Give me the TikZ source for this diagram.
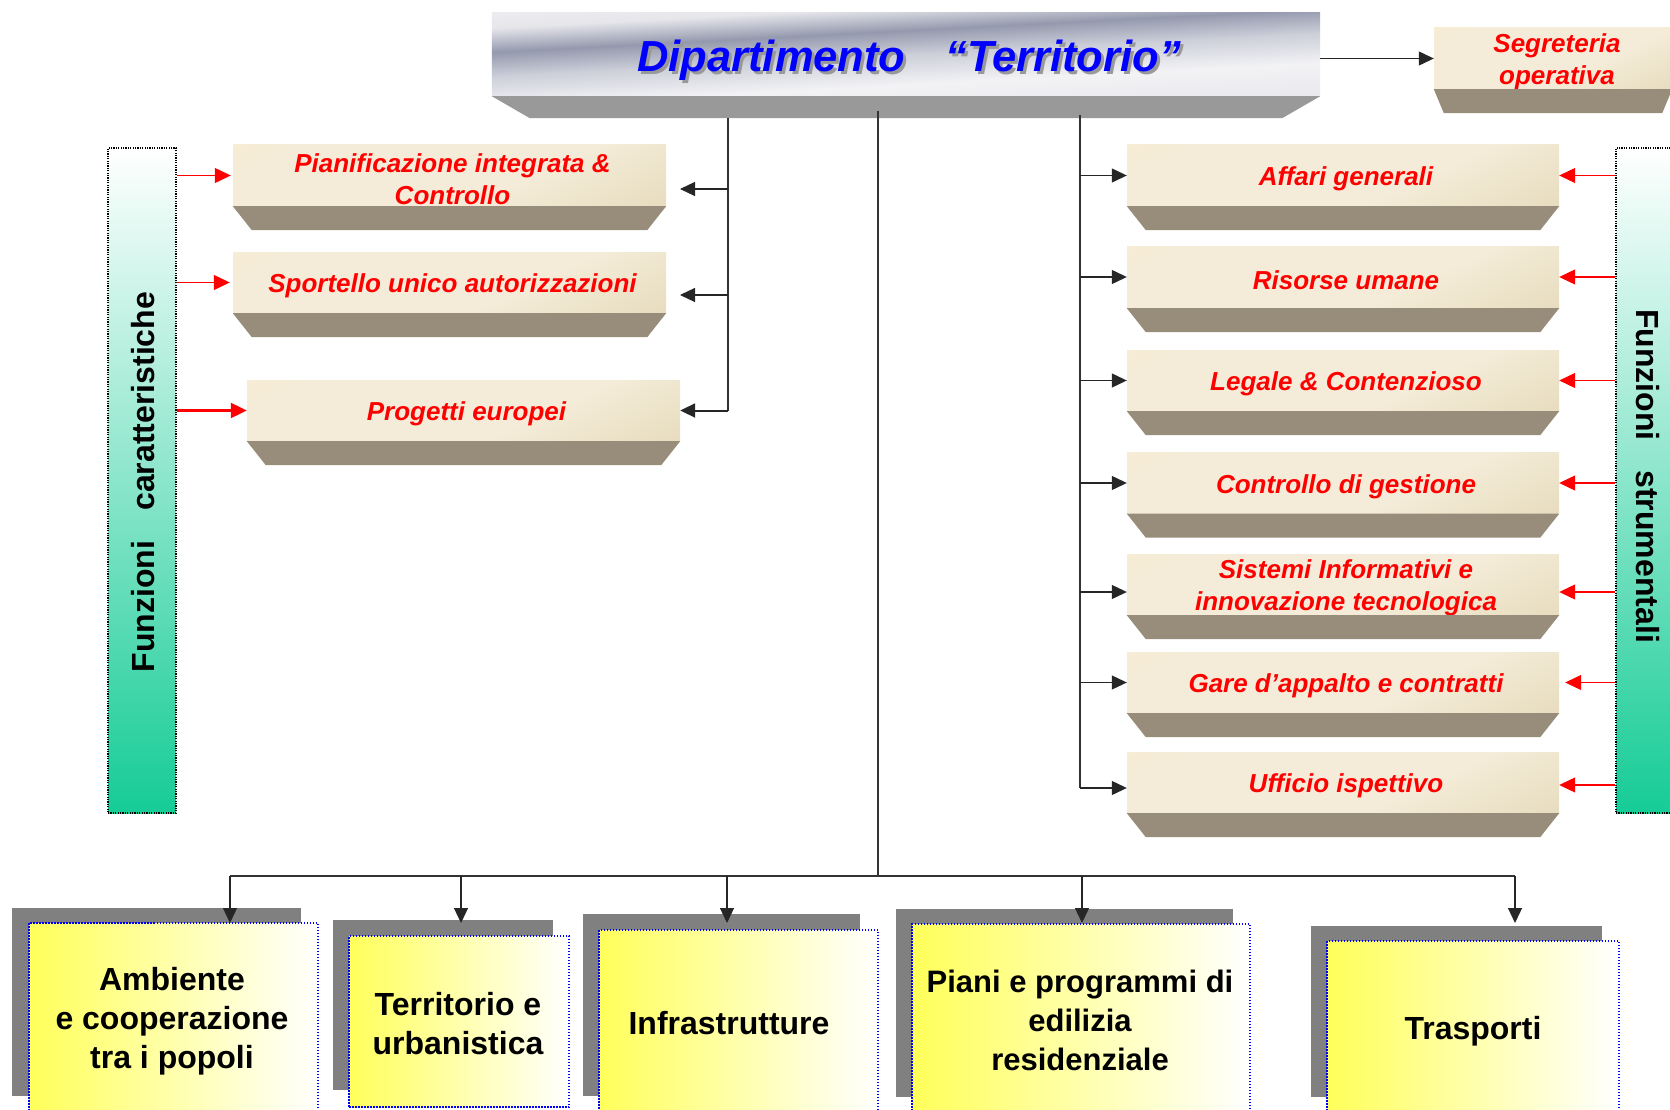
\documentclass[tikz,border=0pt]{standalone}
\usepackage{fontspec}
\setmainfont{Liberation Sans}
\usetikzlibrary{arrows.meta,calc}
\definecolor{bevelc}{RGB}{151,141,122}
\definecolor{titlebev}{RGB}{153,153,153}
\definecolor{boxA}{RGB}{253,235,204}
\definecolor{boxB}{RGB}{244,236,216}
\definecolor{boxM}{RGB}{232,221,192}
\definecolor{boxC}{RGB}{214,198,160}
\definecolor{mint}{RGB}{22,204,150}
\definecolor{mintmid}{RGB}{200,238,222}
\definecolor{shadowg}{RGB}{128,128,128}
\definecolor{yel}{RGB}{255,255,90}
\definecolor{yelmid}{RGB}{255,255,185}
\definecolor{titleblue}{RGB}{0,0,255}
\pgfdeclareverticalshading{metal}{100bp}{rgb(0bp)=(0.93,0.93,0.95); rgb(10bp)=(0.93,0.93,0.95); rgb(18bp)=(0.60,0.62,0.70); rgb(28bp)=(0.91,0.91,0.93); rgb(40bp)=(0.95,0.95,0.96); rgb(50bp)=(0.80,0.81,0.85); rgb(58bp)=(0.58,0.60,0.68); rgb(66bp)=(0.90,0.90,0.92); rgb(76bp)=(0.95,0.95,0.96); rgb(84bp)=(0.55,0.58,0.66); rgb(92bp)=(0.82,0.83,0.86); rgb(100bp)=(0.85,0.86,0.88)}
\pgfdeclareverticalshading{beige}{100bp}{color(0bp)=(boxC); color(18bp)=(boxM); color(40bp)=(boxB); color(75bp)=(boxB); color(100bp)=(boxA)}
\newcommand\bevel[4]{\fill[#4] (#1.south west) -- (#1.south east) -- ([xshift=-#2pt,yshift=-#3pt]#1.south east) -- ([xshift=#2pt,yshift=-#3pt]#1.south west) -- cycle;}
\newcommand\boxnode[6]{%
  \node[face, minimum width=#4pt, minimum height=#5pt] (#1) at (#2,#3) {};
  \node[ftext] (#1t) at ([xshift=3pt,yshift=-3.5pt]#1.center) {#6};
  \bevel{#1}{19}{24}{bevelc}}
\tikzset{
  face/.style={rectangle, inner sep=0pt, shading=beige, shading angle=25},
  ftext/.style={inner sep=0pt, text=red, align=center, font=\fontsize{26}{32}\selectfont\bfseries\itshape},
  titletext/.style={inner sep=0pt, font=\fontsize{43.5}{50}\selectfont\bfseries\itshape},
  sidebar/.style={rectangle, inner sep=0pt, draw=black, line width=1.2pt, dash pattern=on 1.2pt off 1.2pt, top color=white, middle color=mintmid, bottom color=mint},
  sidetext/.style={inner sep=0pt, font=\fontsize{32}{38}\selectfont\bfseries, text=black},
  bface/.style={rectangle, inner sep=0pt, draw=blue, line width=1.7pt, dash pattern=on 1.5pt off 1.5pt, left color=yel, middle color=yelmid, right color=white},
  btext/.style={align=center, inner sep=0pt, font=\fontsize{32}{39}\selectfont\bfseries, text=black},
  conn/.style={draw=black!80, line width=1.2pt},
  blk/.style={draw=black!85, line width=1.2pt, -{Triangle[length=15pt,width=14pt]}},
  redarr/.style={draw=red, line width=1.2pt, -{Triangle[length=16pt,width=15pt]}}
}
\begin{document}
\begin{tikzpicture}[x=1pt,y=-1pt]
\useasboundingbox (0,0) rectangle (1670,1110);
\clip (0,0) rectangle (1670,1110);

% side bars
\node[sidebar, minimum width=68pt, minimum height=665pt] (lbar) at (142,480.5) {};
\node[sidetext, rotate=90] (ltxt) at (143,482) {Funzioni\hspace{30pt}caratteristiche};
\node[sidebar, minimum width=62pt, minimum height=665pt] (rbar) at (1647,480.5) {};
\node[sidetext, rotate=-90] (rtxt) at (1648,476) {Funzioni\hspace{30pt}strumentali};

% title
\node[rectangle, inner sep=0pt, minimum width=828pt, minimum height=83pt] (dept) at (906,54.5) {};
\begin{scope}
  \clip (dept.south west) rectangle (dept.north east);
  \shade[shading=metal, shading angle=0, transform canvas={rotate around={3:(dept.center)}}]
    ([xshift=-440pt,yshift=-75pt]dept.center) rectangle ([xshift=440pt,yshift=75pt]dept.center);
\end{scope}
\bevel{dept}{38}{22}{titlebev}
\node[titletext, text=black!40] (deptsh) at (912,63) {Dipartimento\hspace{40pt}“Territorio”};
\node[titletext, text=titleblue] (depttxt) at (909,60) {Dipartimento\hspace{40pt}“Territorio”};

% segreteria
\node[face, minimum width=238pt, minimum height=61pt] (segr) at (1553,58.5) {};
\node[ftext] (segrt) at (1557,62) {Segreteria\\operativa};
\bevel{segr}{10}{24}{bevelc}

% left boxes
\boxnode{pian}{449.5}{175.5}{433}{61}{Pianificazione integrata \&\\Controllo}
\boxnode{sport}{449.5}{282.5}{433}{61}{Sportello unico autorizzazioni}
\boxnode{prog}{463.5}{410.5}{433}{61}{Progetti europei}

% right boxes
\boxnode{aff}{1343}{175.5}{432}{61}{Affari generali}
\boxnode{ris}{1343}{277}{432}{62}{Risorse umane}
\boxnode{leg}{1343}{380.5}{432}{61}{Legale \& Contenzioso}
\boxnode{ctrl}{1343}{483}{432}{61}{Controllo di gestione}
\boxnode{sist}{1343}{584.5}{432}{61}{Sistemi Informativi e\\innovazione tecnologica}
\boxnode{gare}{1343}{682.5}{432}{61}{Gare d’appalto e contratti}
\boxnode{uff}{1343}{782.5}{432}{61}{Ufficio ispettivo}

% bottom boxes
\fill[shadowg] (12,908) rectangle (301,1096);
\node[bface, minimum width=289pt, minimum height=202pt] (ambf) at (173.5,1024) {};
\node[btext] (ambt) at (172,1021) {Ambiente\\e cooperazione\\tra i popoli};
\fill[shadowg] (333,920) rectangle (553,1090);
\node[bface, minimum width=220pt, minimum height=171pt] (terrf) at (459,1021.5) {};
\node[btext] (terrt) at (458,1024) {Territorio e\\urbanistica};
\fill[shadowg] (583,914) rectangle (860,1096);
\node[bface, minimum width=279pt, minimum height=195pt] (infrf) at (738.5,1027.5) {};
\node[btext] (infrt) at (729,1023) {Infrastrutture};
\fill[shadowg] (896,909) rectangle (1233,1097);
\node[bface, minimum width=338pt, minimum height=201pt] (pianif) at (1081,1024.5) {};
\node[btext, font=\fontsize{31}{39}\selectfont\bfseries] (pianit) at (1080,1020) {Piani e programmi di\\edilizia\\residenziale};
\fill[shadowg] (1311,926) rectangle (1602,1097);
\node[bface, minimum width=292pt, minimum height=184pt] (traspf) at (1473,1033) {};
\node[btext] (traspt) at (1473,1031) {Trasporti};

% connector coordinates
\coordinate (ctop) at (878,111);
\coordinate (ltop) at (728,118);
\coordinate (rtop) at (1080,115);
\coordinate (hbar) at (878,876);
\coordinate (hL) at (230,876);
\coordinate (hR) at (1515,876);
\coordinate (pianIn) at (680,189);
\coordinate (sportIn) at (680,295);
\coordinate (sistIn) at ([yshift=-7.5pt]sist.west);
\coordinate (uffIn) at ([yshift=-5.5pt]uff.west);
\coordinate (sistR) at ([yshift=-7.5pt]sist.east);
\coordinate (gareR) at ([xshift=6pt]gare.east);
\coordinate (uffR) at ([yshift=-2.5pt]uff.east);
\coordinate (pianL) at ([xshift=-2pt]pian.west);
\coordinate (sportL) at ([xshift=-3pt]sport.west);
\coordinate (ambIn) at (230,923);
\coordinate (terrIn) at (461,923);
\coordinate (infrIn) at (727,923);
\coordinate (pianiIn) at (1082,923);
\coordinate (traspIn) at (1515,923);

% trunks
\draw[conn] (ctop) -- (hbar);
\draw[conn] (hL) -- (hR);
\draw[conn] (ltop) -- (ltop |- prog.east);
\draw[conn] (rtop) -- (rtop |- uffIn);

% title to segreteria
\draw[blk] (dept.east |- segr.west) -- (segr.west);

% left black arrows
\draw[blk] (ltop |- pianIn) -- (pianIn);
\draw[blk] (ltop |- sportIn) -- (sportIn);
\draw[blk, line width=2pt] (ltop |- prog.east) -- (prog.east);

% right black arrows
\draw[blk] (rtop |- aff.west) -- (aff.west);
\draw[blk] (rtop |- ris.west) -- (ris.west);
\draw[blk] (rtop |- leg.west) -- (leg.west);
\draw[blk] (rtop |- ctrl.west) -- (ctrl.west);
\draw[blk] (rtop |- sistIn) -- (sistIn);
\draw[blk] (rtop |- gare.west) -- (gare.west);
\draw[blk] (rtop |- uffIn) -- (uffIn);

% left red arrows
\draw[redarr] (lbar.east |- pianL) -- (pianL);
\draw[redarr] (lbar.east |- sportL) -- (sportL);
\draw[redarr, line width=2.2pt] (lbar.east |- prog.west) -- (prog.west);

% right red arrows
\draw[redarr] (rbar.west |- aff.east) -- (aff.east);
\draw[redarr] (rbar.west |- ris.east) -- (ris.east);
\draw[redarr] (rbar.west |- leg.east) -- (leg.east);
\draw[redarr] (rbar.west |- ctrl.east) -- (ctrl.east);
\draw[redarr] (rbar.west |- sistR) -- (sistR);
\draw[redarr] (rbar.west |- gareR) -- (gareR);
\draw[redarr] (rbar.west |- uffR) -- (uffR);

% bottom drops
\draw[blk] (ambIn |- hbar) -- (ambIn);
\draw[blk] (terrIn |- hbar) -- (terrIn);
\draw[blk] (infrIn |- hbar) -- (infrIn);
\draw[blk] (pianiIn |- hbar) -- (pianiIn);
\draw[blk] (traspIn |- hbar) -- (traspIn);
\end{tikzpicture}
\end{document}
